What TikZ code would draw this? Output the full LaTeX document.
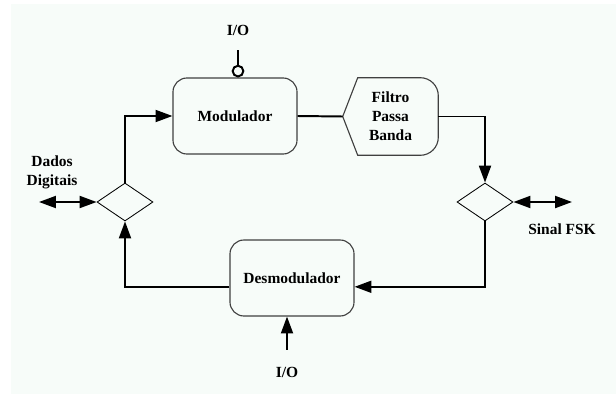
\documentclass[tikz,border=0pt]{standalone}
\usepackage{fontspec}
\setmainfont{Liberation Serif}
\usetikzlibrary{arrows.meta,shapes.geometric}

\definecolor{fundo}{RGB}{247,252,249}
\tikzstyle {bloco} = [draw=black!75, line width=0.8pt, rounded corners=0.35cm, minimum width=3.1cm, minimum height=1.9cm, align=center]
\tikzstyle {losango} = [draw, diamond, line width=0.6pt, inner sep=0pt, minimum width=1.4cm, minimum height=0.95cm]
\tikzstyle {rotulo} = [align=center, font=\fontsize{11}{13.6}\selectfont\bfseries]
\tikzstyle {fio} = [line width=1.4pt]
\tikzstyle {seta} = [fio, -{Triangle[length=12pt,width=8.5pt]}]
\tikzstyle {dupla} = [fio, {Triangle[length=12pt,width=8.5pt]}-{Triangle[length=12pt,width=8.5pt]}]

\begin{document}
\begin{tikzpicture}[x=0.025cm, y=-0.025cm]
            \useasboundingbox[fill=white] (0,0) rectangle (616,394);
            \fill[fundo] (11,4) rectangle (616,394);

            \node [bloco, rotulo] (mod) at (235,116) {Modulador};
            \node [rotulo, minimum width=2.375cm, minimum height=1.925cm] (filtro) at (390.5,116.5) {Filtro\\Passa\\Banda};
            \node [bloco, rotulo] (demod) at (292,278) {Desmodulador};
            \node [losango] (dent) at (125,202) {};
            \node [losango] (dsai) at (485,202) {};

            \node [rotulo] (io1) at (238,30) {I/O};
            \node [rotulo] (io2) at (287,372) {I/O};
            \node [rotulo] (dados) at (52,172) {Dados\\Digitais};
            \node [rotulo] (sinal) at (562,229) {Sinal FSK};
            \coordinate (dadosfim) at (39,202);
            \coordinate (sinalfim) at (572,202);

            % contorno do filtro
            \draw [black!75, line width=0.8pt] (filtro.west) -- ([xshift=0.375cm]filtro.north west)
                -- ([xshift=-0.45cm]filtro.north east) arc [start angle=90, end angle=0, radius=0.45cm]
                -- ([yshift=0.45cm]filtro.south east) arc [start angle=0, end angle=-90, radius=0.45cm]
                -- ([xshift=0.375cm]filtro.south west) -- cycle;

            \draw [seta] (dent.north) |- (mod.west);
            \draw [fio] (mod.east) -- (filtro.west);
            \draw [seta] (filtro.east) -| (dsai.north);
            \draw [seta] (dsai.south) |- ([yshift=-0.22cm]demod.east);
            \draw [seta] ([yshift=-0.22cm]demod.west) -| (dent.south);

            \draw [dupla] (dadosfim) -- (dent.west);
            \draw [dupla] (sinalfim) -- (dsai.east);

            \draw [fio, -{Circle[open,length=9pt,width=9pt]}] ([yshift=-0.25cm]io1.south) -- (io1.south |- mod.north);
            \draw [seta] ([yshift=0.3cm]io2.north) -- (io2.north |- demod.south);
        \end{tikzpicture}
\end{document}
